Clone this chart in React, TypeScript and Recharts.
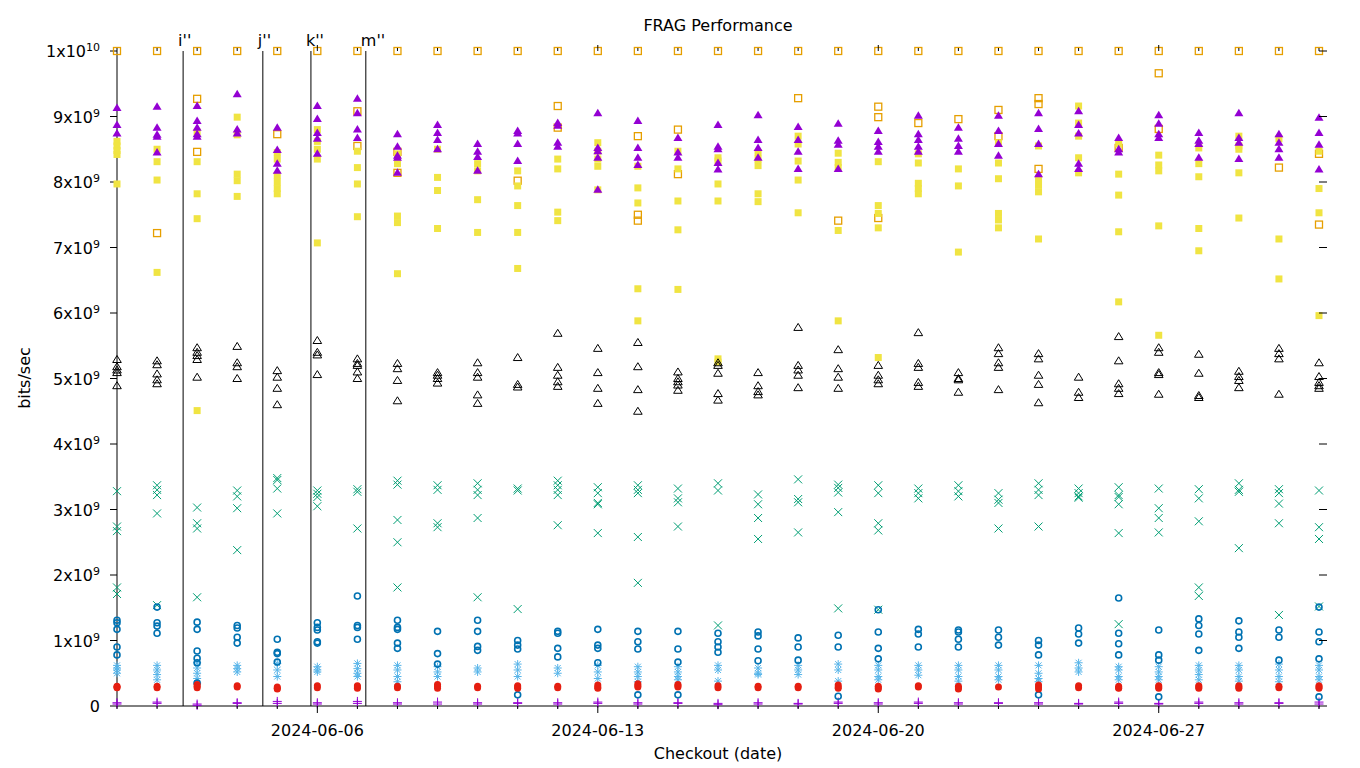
import { ScatterChart, Scatter, XAxis, YAxis, ReferenceLine } from 'recharts';

const FONT = '"DejaVu Sans", sans-serif';

// one column per checkout day, counted from 2024-06-01; values in units of 1e9 bits/sec
const dateTicks = [5, 12, 19, 26];
const dateLabels = ['2024-06-06', '2024-06-13', '2024-06-20', '2024-06-27'];
const markerDays = [1.65, 3.64, 4.84, 6.21];
const markerLabels = ["i''", "j''", "k''", "m''"];
const yTicks = [0, 1, 2, 3, 4, 5, 6, 7, 8, 9, 10];

const fragPlus = [
  [0.05, 0.03], [0.06, 0.04], [0.03, 0.01], [0.05, 0.04], [0.07, 0.04], [0.05, 0.03], [0.07, 0.04],
  [0.05, 0.03], [0.06, 0.03], [0.05, 0.03], [0.05, 0.04], [0.05, 0.03], [0.06, 0.04], [0.05, 0.03],
  [0.05, 0.04], [0.04, 0.02], [0.05, 0.03], [0.04, 0.03], [0.06, 0.04], [0.05, 0.03], [0.06, 0.04],
  [0.05, 0.03], [0.05, 0.04], [0.05, 0.03], [0.04, 0.03], [0.06, 0.04], [0.04, 0.03], [0.06, 0.04],
  [0.05, 0.03], [0.05, 0.04], [0.06, 0.03],
];

const fragCross = [
  [3.28, 2.74, 2.67, 1.81, 1.71], [3.37, 3.3, 3.22, 2.94, 1.54], [3.03, 2.79, 2.71, 1.66],
  [3.29, 3.2, 3.02, 2.38], [3.48, 3.45, 3.32, 2.94], [3.29, 3.24, 3.19, 3.05], [3.31, 3.27, 2.71],
  [3.44, 3.38, 2.84, 2.5, 1.81], [3.37, 3.3, 2.79, 2.73], [3.4, 3.3, 3.22, 2.87, 1.66],
  [3.32, 3.29, 1.48], [3.44, 3.37, 3.3, 3.22, 2.76], [3.34, 3.25, 3.1, 3.08, 2.64],
  [3.37, 3.3, 3.25, 2.58, 1.88], [3.32, 3.17, 3.11, 2.74], [3.4, 3.29, 1.23], [3.23, 3.08, 2.87, 2.55],
  [3.46, 3.16, 3.11, 2.65], [3.38, 3.33, 3.26, 2.96, 1.49], [3.37, 3.25, 2.79, 2.68, 1.47],
  [3.32, 3.25, 3.17], [3.37, 3.28, 3.2], [3.25, 3.15, 3.1, 2.71], [3.4, 3.3, 3.22, 2.74],
  [3.32, 3.25, 3.2, 3.18], [3.34, 3.22, 3.19, 3.08, 2.64, 1.25], [3.32, 3.02, 2.87, 2.65],
  [3.31, 3.17, 2.82, 1.81, 1.68], [3.4, 3.3, 3.27, 2.41], [3.31, 3.25, 3.09, 2.79, 1.39],
  [3.29, 2.73, 2.55, 1.52],
];

const fragStar = [
  [0.62, 0.58, 0.55, 0.5], [0.62, 0.55, 0.48, 0.4], [0.66, 0.58, 0.5, 0.42, 0.35], [0.62, 0.57, 0.52],
  [0.65, 0.55, 0.45], [0.6, 0.55, 0.52], [0.65, 0.57, 0.5, 0.45], [0.62, 0.55, 0.45, 0.37],
  [0.6, 0.52, 0.45], [0.58, 0.52], [0.64, 0.55, 0.45], [0.58, 0.5], [0.62, 0.52, 0.42],
  [0.6, 0.52, 0.45, 0.37], [0.6, 0.52, 0.45, 0.4], [0.62, 0.55, 0.38], [0.58, 0.5, 0.48],
  [0.62, 0.55, 0.48], [0.64, 0.55, 0.38], [0.62, 0.55, 0.45, 0.4], [0.62, 0.55, 0.47],
  [0.62, 0.55, 0.45, 0.38], [0.62, 0.55, 0.45, 0.4], [0.62, 0.5, 0.42, 0.37], [0.66, 0.58, 0.52],
  [0.6, 0.55, 0.45, 0.4], [0.6, 0.52, 0.45, 0.4], [0.62, 0.55, 0.48, 0.4], [0.62, 0.55, 0.45, 0.38],
  [0.64, 0.55, 0.45, 0.37], [0.62, 0.55, 0.45, 0.4],
];

const fragOpenSq = [
  [10], [10, 7.22], [10, 9.27, 8.46], [10], [10, 8.73], [10], [10, 9.08, 8.55], [10, 8.46, 8.14],
  [10], [10], [10, 8.02], [10, 9.16, 8.83], [10], [10, 8.7, 7.5, 7.41], [10, 8.8, 8.12], [10], [10],
  [10, 9.28], [10, 7.41], [10, 9.15, 8.99, 7.45], [10, 8.9], [10, 8.96], [10, 9.1, 8.7],
  [10, 9.28, 9.19, 8.2], [10], [10, 8.52], [10, 9.66, 8.81], [10], [10], [10, 8.22], [10, 8.43, 7.35],
];

const fragFilledSq = [
  [8.62, 8.55, 8.48, 8.42, 7.97], [8.5, 8.31, 8.03, 6.62], [8.76, 8.31, 7.82, 7.44, 4.51],
  [8.99, 8.72, 8.12, 8.02, 7.78], [8.45, 8.35, 8.1, 8.0, 7.9, 7.82], [8.8, 8.62, 8.5, 8.35, 7.07],
  [8.47, 8.22, 7.97, 7.47], [8.43, 8.28, 7.48, 7.38, 6.6], [8.5, 8.07, 7.87, 7.29],
  [8.28, 8.17, 7.73, 7.23], [8.17, 7.94, 7.64, 7.23, 6.68], [8.35, 8.2, 7.54, 7.41],
  [8.6, 8.47, 8.35, 8.24, 7.88], [8.24, 7.91, 7.68, 6.37, 5.88], [8.47, 8.2, 7.71, 7.27, 6.36],
  [8.37, 8.32, 7.97, 7.71, 5.3, 5.25], [8.45, 8.35, 8.25, 7.82, 7.7], [8.7, 8.58, 8.32, 8.03, 7.53],
  [8.44, 8.3, 8.22, 7.26, 5.88], [8.31, 7.64, 7.52, 7.3, 5.32], [8.43, 8.29, 7.98, 7.9, 7.82],
  [8.2, 7.94, 6.93], [8.6, 8.29, 8.05, 7.52, 7.42, 7.3], [8.55, 8.05, 7.95, 7.85, 7.13],
  [9.16, 8.9, 8.7, 8.37, 8.14], [8.58, 8.12, 7.8, 7.24, 6.17], [8.41, 8.26, 8.17, 7.33, 5.66],
  [8.52, 8.28, 8.08, 7.29, 6.95], [8.7, 8.55, 8.5, 8.14, 7.45], [8.66, 7.13, 6.52],
  [8.47, 7.9, 7.53, 5.96],
];

const fragOpenCirc = [
  [1.31, 1.27, 1.17, 0.9, 0.78], [1.51, 1.27, 1.22, 1.11], [1.28, 1.17, 0.84, 0.73, 0.66, 0.35],
  [1.23, 1.19, 1.05, 0.96], [1.02, 0.82, 0.8, 0.67], [1.27, 1.2, 1.16, 0.98, 0.96],
  [1.68, 1.23, 1.2, 1.02], [1.31, 1.2, 1.17, 0.96, 0.88], [1.14, 0.8, 0.64], [1.31, 1.14, 0.91, 0.85],
  [1.0, 0.93, 0.87, 0.17], [1.14, 1.11, 0.88, 0.75], [1.17, 0.93, 0.88, 0.66], [1.14, 0.98, 0.87, 0.17],
  [1.14, 0.87, 0.67, 0.17], [1.11, 0.98, 0.9, 0.82], [1.13, 1.07, 0.87, 0.69], [1.04, 0.9, 0.7],
  [1.08, 0.9, 0.15], [1.47, 1.13, 0.88, 0.72], [1.17, 1.1, 0.9], [1.16, 1.13, 1.02, 0.9],
  [1.16, 1.05, 0.93], [1.0, 0.93, 0.78, 0.17], [1.19, 1.1, 0.96], [1.65, 1.11, 0.95, 0.78],
  [1.16, 0.78, 0.7, 0.14], [1.33, 1.23, 1.1, 0.85], [1.3, 1.13, 1.05, 0.88], [1.16, 1.05, 0.7],
  [1.51, 1.13, 0.98, 0.72, 0.14],
];

const fragFilledCirc = [
  [0.3, 0.29, 0.28], [0.3, 0.28], [0.33, 0.3, 0.28], [0.31, 0.29], [0.29, 0.27, 0.26], [0.31, 0.28],
  [0.31, 0.29, 0.27], [0.3, 0.28], [0.33, 0.3, 0.27], [0.3, 0.28], [0.31, 0.29, 0.27], [0.3, 0.28],
  [0.32, 0.29, 0.27], [0.34, 0.31, 0.29], [0.33, 0.31, 0.29], [0.31, 0.28], [0.3, 0.28], [0.3, 0.28],
  [0.32, 0.29, 0.27], [0.3, 0.28, 0.26], [0.31, 0.29], [0.3, 0.28, 0.26], [0.29], [0.32, 0.29, 0.26],
  [0.31, 0.28], [0.3, 0.28, 0.27], [0.31, 0.29, 0.27], [0.31, 0.29, 0.27], [0.31, 0.29, 0.27],
  [0.3, 0.28], [0.31, 0.29, 0.27],
];

const fragOpenTri = [
  [5.29, 5.18, 5.13, 5.09, 4.89], [5.27, 5.21, 5.07, 4.98, 4.92], [5.47, 5.4, 5.35, 5.29, 5.02],
  [5.49, 5.24, 5.18, 5.0], [5.12, 5.02, 4.85, 4.6], [5.58, 5.4, 5.36, 5.06], [5.3, 5.23, 5.2, 5.1, 5.0],
  [5.23, 5.15, 4.97, 4.66], [5.09, 5.05, 5.0, 4.93], [5.24, 5.09, 5.02, 4.75, 4.62], [5.32, 4.91, 4.87],
  [5.69, 5.17, 5.05, 4.95, 4.88], [5.46, 5.09, 4.85, 4.62], [5.55, 5.18, 4.83, 4.5],
  [5.1, 5.0, 4.95, 4.9, 4.82], [5.24, 5.2, 5.08, 4.77, 4.67], [5.09, 4.89, 4.8, 4.75],
  [5.78, 5.2, 5.13, 5.05, 4.86], [5.44, 5.15, 5.02, 4.85], [5.2, 5.05, 4.98, 4.92],
  [5.7, 5.23, 5.17, 4.94, 4.88], [5.09, 5.0, 4.98, 4.79], [5.47, 5.38, 5.24, 5.17, 4.83],
  [5.38, 5.3, 5.05, 4.91, 4.63], [5.02, 4.79, 4.71], [5.64, 5.27, 4.92, 4.85, 4.77],
  [5.47, 5.4, 5.09, 5.06, 4.76], [5.37, 5.08, 4.74, 4.71], [5.11, 5.03, 4.97, 4.86],
  [5.46, 5.38, 5.3, 4.76], [5.24, 5.03, 4.94, 4.89, 4.85],
];

const fragFilledTri = [
  [9.13, 8.87, 8.74], [9.15, 8.83, 8.72, 8.69, 8.45], [9.16, 8.93, 8.83, 8.73, 8.69], [9.34, 8.8, 8.74],
  [8.83, 8.49, 8.28, 8.17], [9.16, 8.96, 8.75, 8.66, 8.43], [9.27, 9.05, 8.8, 8.67],
  [8.73, 8.54, 8.4, 8.37, 8.14], [8.87, 8.75, 8.64, 8.5], [8.58, 8.46, 8.38, 8.17],
  [8.78, 8.74, 8.58, 8.32], [8.9, 8.86, 8.6, 8.54], [9.05, 8.52, 8.47, 8.37, 7.88],
  [8.93, 8.52, 8.37, 8.26], [8.67, 8.45, 8.37], [8.87, 8.54, 8.5, 8.29, 8.19], [9.02, 8.64, 8.52, 8.37],
  [8.84, 8.64, 8.46, 8.2], [8.89, 8.63, 8.57, 8.2], [8.78, 8.61, 8.54, 8.46],
  [9.01, 8.73, 8.64, 8.54, 8.46], [8.83, 8.66, 8.55, 8.46], [9.01, 8.78, 8.58, 8.4],
  [9.05, 8.81, 8.58, 8.12], [9.08, 8.87, 8.74, 8.28, 8.2], [8.67, 8.5, 8.45], [9.02, 8.89, 8.73, 8.67],
  [8.75, 8.63, 8.58, 8.37], [9.05, 8.67, 8.6, 8.35], [8.73, 8.6, 8.5, 8.37], [8.98, 8.75, 8.57, 8.19],
];

const allDays = fragPlus.map((_, d) => d);

const toPoints = (vals: number[][]) => vals.flatMap((list, d) => list.map((v) => ({ x: d, y: v })));

type SP = { cx?: number; cy?: number };

const plusShape = (c: string) => ({ cx = 0, cy = 0 }: SP) => (
  <path d={`M${cx - 4.5},${cy}h9M${cx},${cy - 4.5}v9`} stroke={c} strokeWidth={1} fill="none" />
);
const crossShape = (c: string) => ({ cx = 0, cy = 0 }: SP) => (
  <path d={`M${cx - 4},${cy - 4}l8,8M${cx - 4},${cy + 4}l8,-8`} stroke={c} strokeWidth={1} fill="none" />
);
const starShape = (c: string) => ({ cx = 0, cy = 0 }: SP) => (
  <path
    d={`M${cx - 4},${cy}h8M${cx},${cy - 4}v8M${cx - 3},${cy - 3}l6,6M${cx - 3},${cy + 3}l6,-6`}
    stroke={c}
    strokeWidth={1}
    fill="none"
  />
);
const openSqShape = (c: string) => ({ cx = 0, cy = 0 }: SP) => (
  <rect x={cx - 3.5} y={cy - 3.5} width={7} height={7} fill="none" stroke={c} strokeWidth={1.3} />
);
const filledSqShape = (c: string) => ({ cx = 0, cy = 0 }: SP) => (
  <rect x={cx - 3.5} y={cy - 3.5} width={7} height={7} fill={c} />
);
const openCircShape = (c: string) => ({ cx = 0, cy = 0 }: SP) => (
  <circle cx={cx} cy={cy} r={3} fill="none" stroke={c} strokeWidth={1.6} />
);
const filledCircShape = (c: string) => ({ cx = 0, cy = 0 }: SP) => (
  <circle cx={cx} cy={cy} r={3.5} fill={c} />
);
const openTriShape = (c: string) => ({ cx = 0, cy = 0 }: SP) => (
  <path d={`M${cx},${cy - 4}L${cx + 4.3},${cy + 3}H${cx - 4.3}Z`} fill="none" stroke={c} strokeWidth={1} />
);
const filledTriShape = (c: string) => ({ cx = 0, cy = 0 }: SP) => (
  <path d={`M${cx},${cy - 4.5}L${cx + 4.5},${cy + 3}H${cx - 4.5}Z`} fill={c} />
);

const series = [
  { data: fragPlus, shape: plusShape('#9400d3') },
  { data: fragCross, shape: crossShape('#009e73') },
  { data: fragStar, shape: starShape('#56b4e9') },
  { data: fragOpenSq, shape: openSqShape('#e69f00') },
  { data: fragFilledSq, shape: filledSqShape('#f0e442') },
  { data: fragOpenCirc, shape: openCircShape('#0072b2') },
  { data: fragFilledCirc, shape: filledCircShape('#e51e10') },
  { data: fragOpenTri, shape: openTriShape('#000000') },
  { data: fragFilledTri, shape: filledTriShape('#9400d3') },
];

const YTick = ({ x, y, payload }: any) => {
  const v = payload.value;
  if (v === 0) {
    return (
      <text x={x} y={y + 6} textAnchor="end" fontSize={16} fontFamily={FONT} fill="#000">
        0
      </text>
    );
  }
  const mant = v === 10 ? '1' : String(v);
  const exp = v === 10 ? '10' : '9';
  return (
    <text x={x} y={y + 6} textAnchor="end" fontSize={16} fontFamily={FONT} fill="#000">
      {mant}x10
      <tspan dy={-6} fontSize={11}>
        {exp}
      </tspan>
    </text>
  );
};

const BottomTick = ({ x, y, payload }: any) => {
  const i = dateTicks.indexOf(payload.value);
  return (
    <g>
      <line x1={x} x2={x} y1={y} y2={y + (i >= 0 ? 7 : 3)} stroke="#000" />
      {i >= 0 && (
        <text x={x} y={y + 30} textAnchor="middle" fontSize={16} fontFamily={FONT} fill="#000">
          {dateLabels[i]}
        </text>
      )}
    </g>
  );
};

const TopTick = ({ x, y, payload }: any) => {
  const major = dateTicks.includes(payload.value);
  return <line x1={x} x2={x} y1={y} y2={y - (major ? 6 : 3)} stroke="#000" />;
};

const RightTick = ({ x, y }: any) => <line x1={x} x2={x + 8} y1={y} y2={y} stroke="#000" />;

const MarkerLabel = ({ viewBox, text }: any) => (
  <text x={viewBox.x - 5} y={viewBox.y - 5} fontSize={16} fontFamily={FONT} fill="#000">
    {text}
  </text>
);

export default function App() {
  return (
    <div style={{ position: 'absolute', left: 0, top: 0, width: 1360, height: 768, background: '#fff' }}>
      <ScatterChart width={1360} height={768} margin={{ top: 43, right: 33, bottom: 22, left: 37 }}>
        <XAxis
          dataKey="x"
          type="number"
          domain={[0, 30]}
          ticks={allDays}
          interval={0}
          height={40}
          tickLine={false}
          tickSize={0}
          tickMargin={0}
          tick={BottomTick}
          axisLine={{ stroke: '#000' }}
        />
        <XAxis
          xAxisId="top"
          dataKey="x"
          orientation="top"
          type="number"
          domain={[0, 30]}
          ticks={allDays}
          interval={0}
          height={8}
          axisLine={false}
          tickLine={false}
          tickSize={0}
          tickMargin={0}
          tick={TopTick}
        />
        <YAxis
          dataKey="y"
          type="number"
          domain={[0, 10]}
          ticks={yTicks}
          interval={0}
          width={80}
          tickSize={7}
          tickMargin={10}
          tickLine={{ stroke: '#000' }}
          axisLine={{ stroke: '#000' }}
          tick={YTick}
        />
        <YAxis
          yAxisId="right"
          dataKey="y"
          orientation="right"
          type="number"
          domain={[0, 10]}
          ticks={yTicks}
          interval={0}
          width={8}
          axisLine={false}
          tickLine={false}
          tickSize={0}
          tickMargin={0}
          tick={RightTick}
        />
        {markerDays.map((d, i) => (
          <ReferenceLine key={d} x={d} stroke="#000" strokeWidth={1} label={<MarkerLabel text={markerLabels[i]} />} />
        ))}
        <Scatter
          xAxisId="top"
          yAxisId="right"
          data={toPoints(fragOpenSq)}
          shape={() => <g />}
          isAnimationActive={false}
        />
        {series.map((s, i) => (
          <Scatter key={i} data={toPoints(s.data)} shape={s.shape} isAnimationActive={false} />
        ))}
      </ScatterChart>
      <svg
        width={1360}
        height={768}
        style={{ position: 'absolute', left: 0, top: 0, pointerEvents: 'none' }}
        fontFamily={FONT}
        fontSize={16}
      >
        <text x={718} y={31} textAnchor="middle">
          FRAG Performance
        </text>
        <text x={718} y={759} textAnchor="middle">
          Checkout (date)
        </text>
        <text transform="translate(30,378) rotate(-90)" textAnchor="middle">
          bits/sec
        </text>
      </svg>
    </div>
  );
}
